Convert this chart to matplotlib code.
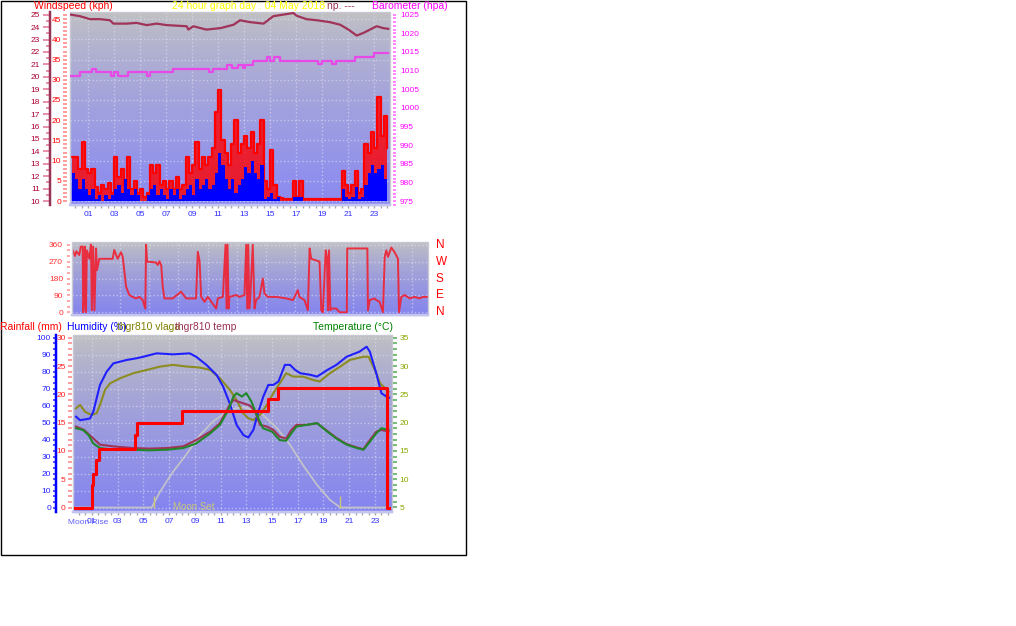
import numpy as np
import matplotlib
matplotlib.use("Agg")
from matplotlib import pyplot as plt
from matplotlib import transforms
from matplotlib.colors import to_rgb
from matplotlib.patches import Rectangle
from matplotlib.ticker import MultipleLocator

plt.rcParams['font.family'] = ['Liberation Sans', 'DejaVu Sans']

W, H = 1016, 626
PT = 0.72  # pixels -> points at dpi 100

# ---------------- data ----------------
# wind (kph), quarter-hour readings
wind_t = np.arange(-0.25, 24.01, 0.25)
gust = [11,
        11, 8, 14.7, 8,
        7, 8, 3.5, 2,
        4, 3, 4.5, 2,
        11, 6, 8, 4,
        11, 3, 5, 2,
        3, 1, 2, 9,
        7, 9, 4, 5,
        3, 5, 3, 6,
        3, 4, 11, 7,
        9, 14.7, 8, 11,
        9, 11, 13, 22,
        27.5, 15, 12, 9,
        14, 20, 12, 14,
        16, 13, 17, 12,
        14, 20, 5, 3,
        12.6, 4, 1, 0.8,
        0.5, 0.5, 0.5, 5,
        1, 5, 0.5, 0.5,
        0.5, 0.5, 0.5, 0.5,
        0.5, 0.5, 0.5, 0.5,
        0.5, 0.5, 7.5, 4,
        2, 4, 7.5, 2,
        3, 14, 12, 17,
        13, 25.8, 16, 21,
        13]
avg = [7,
       5.5, 3, 5.5, 3,
       1.5, 3, 0.5, 1.5,
       0, 1.5, 0.5, 1.5,
       3, 4, 2, 5.5,
       3, 1.5, 3, 1.5,
       0, 0, 1.5, 3,
       4, 1.5, 3, 1.5,
       0.5, 3, 1.5, 3,
       0.5, 1.5, 3, 4,
       1.5, 5.5, 3, 4,
       5.5, 3, 4, 7,
       12, 9, 5.5, 3,
       5.5, 2, 4, 5.5,
       8.4, 7, 10, 7,
       5.5, 9, 0.5, 1,
       2, 0.5, 1, 0,
       0, 0, 0, 1,
       1, 1, 0, 0,
       0, 0, 0, 0,
       0, 0, 0, 0,
       0, 0, 3, 1,
       0.5, 1, 3.4, 0.5,
       1, 4, 7, 9,
       7, 8, 9, 5.5,
       4]

# barometer (hpa)
baro_t = [-0.3, 0.4, 1.3, 1.6, 2.8, 3.0, 3.3, 4.1, 5.5, 5.8, 7.5, 10.3, 10.6,
          11.7, 12.1, 12.5, 12.9, 13.1, 13.7, 14.8, 15.0, 15.3, 15.8, 18.7,
          19.0, 19.8, 20.1, 21.5, 23.0, 24.1]
baro_p = [1008.6, 1009.5, 1010.4, 1009.5, 1008.6, 1009.5, 1008.6, 1009.5,
          1008.6, 1009.5, 1010.4, 1009.5, 1010.4, 1011.6, 1010.6, 1011.6,
          1010.6, 1011.6, 1012.7, 1013.6, 1012.7, 1013.6, 1012.7, 1011.8,
          1012.7, 1011.8, 1012.7, 1013.6, 1014.7, 1014.7]

# "np." series drawn on the barometer scale
np_t = [-0.31, 0.38, 1.15, 1.92, 2.69, 2.95, 3.97, 4.74, 5.51, 6.28, 7.05,
        8.59, 8.72, 9.1, 10.1, 11.2, 12.2, 12.69, 13.46, 14.5, 15.26, 16.8,
        17.05, 17.8, 18.6, 19.6, 20.4, 21.03, 21.67, 22.18, 23.2, 23.7, 24.1]
np_v = [1025.0, 1024.6, 1023.8, 1023.8, 1023.5, 1022.6, 1022.6, 1022.8,
        1022.2, 1022.6, 1022.2, 1021.9, 1021.0, 1021.9, 1021.0, 1021.4,
        1022.3, 1023.5, 1023.0, 1022.6, 1024.6, 1025.45, 1024.7, 1023.8,
        1023.5, 1023.0, 1022.3, 1021.0, 1019.4, 1020.1, 1021.9, 1021.4, 1021.2]

# wind direction (degrees)
dir_t = [-0.26, -0.1, 0.0, 0.2, 0.3, 0.43, 0.47, 0.52, 0.58, 0.66, 0.72, 0.89,
         1.0, 1.06, 1.15, 1.24, 1.35, 1.42, 1.57, 2.49, 2.6, 2.83, 3.06, 3.18,
         3.41, 3.63, 3.86, 4.09, 4.32, 4.55, 4.73, 4.78, 4.85, 5.47, 5.58, 5.7,
         5.82, 5.92, 6.04, 6.61, 7.18, 7.53, 8.21, 8.33, 8.45, 8.56, 8.79, 9.02,
         9.59, 9.7, 10.05, 10.23, 10.3, 10.37, 10.44, 10.5, 10.96, 11.19, 11.53,
         11.65, 11.72, 11.79, 11.86, 11.93, 12.1, 12.22, 12.33, 12.56, 12.79,
         12.9, 13.13, 13.71, 14.4, 14.86, 15.19, 15.3, 15.65, 15.88, 16.0,
         16.11, 16.68, 16.8, 16.91, 17.1, 17.19, 17.26, 17.33, 17.42, 17.49,
         17.83, 18.06, 18.55, 18.58, 19.96, 20.0, 20.12, 20.46, 20.57, 20.8,
         21.03, 21.15, 21.26, 21.38, 21.6, 21.83, 22.06, 22.13, 22.29, 22.52,
         22.86, 23.2, 23.54, 23.77, 24.12]
dir_d = [332, 300, 325, 305, 350, 350, 0, 56, 350, 0, 330, 285,
         360, 10, 350, 10, 340, 225, 285, 285, 332, 285, 320, 295,
         136, 92, 82, 74, 82, 65, 20, 360, 270, 265, 252, 272,
         250, 140, 74, 74, 110, 74, 74, 322, 274, 82, 56, 82,
         20, 74, 82, 360, 20, 360, 20, 82, 92, 82, 92,
         360, 20, 360, 20, 82, 360, 20, 65, 82, 180,
         100, 82, 82, 74, 65, 118, 82, 65, 11, 340,
         285, 270, 11, 0, 330, 295, 11, 330, 11, 20,
         20, 0, 0, 340, 340, 10, 65, 74, 65, 56,
         0, 295, 330, 295, 345, 320, 285, 0, 82, 92,
         74, 82, 74, 82, 82]

# humidity (%)
hum_t = [-0.23, 0.08, 0.85, 1.11, 1.37, 1.63, 2.15, 2.67, 3.71, 4.48, 5.0,
         6.03, 7.3, 8.6, 9.1, 9.9, 10.7, 11.2, 11.73, 12.25, 12.77, 13.16,
         13.55, 13.94, 14.32, 14.71, 15.1, 15.5, 16.0, 16.4, 16.8, 17.2, 17.95,
         18.5, 19.3, 20.0, 20.8, 21.8, 22.35, 22.6, 23.1, 23.5, 23.9, 24.1]
hum = [53.5, 51.4, 52.4, 56.4, 64.3, 72.2, 80, 84.9, 86.9, 87.9, 88.8,
       90.8, 90.2, 90.8, 88.8, 84, 78, 71.2, 61, 48.6, 42.7, 41.2,
       45.7, 56.4, 65.3, 72.2, 72.2, 74.2, 84, 84, 81, 79.1, 78.2,
       77.1, 81, 84, 88.8, 91.8, 94.7, 91.8, 79.1, 67.3, 65.3, 64.7]

# thgr810 vlaga (%)
vlaga_t = [-0.23, 0.08, 0.47, 0.98, 1.37, 1.63, 2.02, 2.41, 3.19, 4.22, 5.26,
           6.3, 7.3, 8.4, 9.4, 10.2, 10.95, 11.73, 12.25, 12.77, 13.16, 13.55,
           14.06, 14.6, 15.1, 15.6, 16.1, 16.65, 17.4, 18.2, 18.7, 19.5, 20.3,
           21.05, 22.1, 22.5, 23.0, 23.4, 23.8, 24.05]
vlaga = [58.4, 60.4, 56.4, 54.5, 55.5, 60.4, 69.2, 73.1, 76.1, 79.1, 81,
         83, 84, 83, 82.4, 81, 76.1, 69.2, 63.3, 55.5, 52.5, 51.5,
         54.5, 60.4, 67.3, 73.1, 79.1, 77.1, 77.1, 75.1, 74.2, 79.1, 83,
         86.9, 88.8, 88.8, 81, 73.1, 70.1, 68.2]

# temperature (C)
temp_t = [-0.23, 0.31, 0.74, 1.11, 1.63, 2.67, 4.2, 5.5, 6.8, 8.1, 9.1, 10.2,
          10.95, 11.6, 12.0, 12.25, 12.65, 13.0, 13.4, 13.8, 14.3, 15.0, 15.6,
          16.1, 16.5, 16.9, 17.7, 18.5, 19.3, 20.0, 20.8, 21.6, 22.1, 22.6,
          23.1, 23.5, 24.05]
temp = [19.0, 18.7, 17.8, 16.3, 15.5, 15.2, 15.2, 15.1, 15.2, 15.5, 16.3, 18.1,
        19.6, 22.2, 24.6, 25.2, 24.6, 25.2, 23.7, 21.4, 19.0, 18.4, 16.9,
        16.8, 18.1, 19.3, 19.6, 19.9, 18.4, 17.2, 16.1, 15.5, 15.2, 16.6,
        18.1, 19.0, 18.7]

# thgr810 temp (C)
thgr_t = [-0.23, 0.39, 1.11, 1.63, 2.67, 4.2, 5.5, 6.8, 8.1, 9.1, 10.2, 10.95,
          11.73, 12.0, 12.25, 12.77, 13.3, 13.7, 14.06, 14.6, 15.1, 15.6, 16.1,
          16.5, 16.9, 17.7, 18.5, 19.3, 20.0, 20.8, 21.6, 22.1, 22.6, 23.1,
          23.5, 24.05]
thgr = [19.3, 18.7, 17.2, 16.1, 15.8, 15.5, 15.4, 15.5, 15.8, 16.9, 18.4, 19.9,
        23.2, 24.0, 23.8, 23.4, 23.0, 21.9, 19.6, 19.3, 18.7, 17.5, 17.2,
        18.7, 19.6, 19.6, 19.9, 18.5, 17.3, 16.2, 15.6, 15.3, 16.9, 18.4,
        18.7, 18.4]

# rainfall (mm), cumulative
rain_t = [-0.3, 0.98, 1.1, 1.32, 1.55, 4.35, 4.53, 7.98, 14.71, 15.43, 23.9, 24.1]
rain = [0, 4.0, 6.0, 8.4, 10.3, 12.8, 14.9, 17.0, 19.2, 21.1, 0, 0]

# moon
moon_t = [-0.3, 5.65, 6.3, 7.3, 8.4, 9.4, 10.4, 11.5, 12.2, 12.9, 13.3, 14.3,
          15.4, 16.4, 17.4, 18.5, 19.5, 20.3, 24.1]
moon = [0, 0, 9.3, 21, 31.8, 42.7, 50.6, 56.4, 58.5, 59, 58, 54.5,
        46.6, 36.9, 25, 13.3, 4.5, 0, 0]
moon_marks = [5.83, 20.3]

odd_hours = list(range(1, 24, 2))
hour_labels = ["%02d" % h for h in odd_hours]


# ---------------- helpers ----------------
def box(x0, y0, x1, y1):
    return [x0 / W, 1 - y1 / H, (x1 - x0) / W, (y1 - y0) / H]


def gradient(ax, top, bottom):
    t = np.linspace(0, 1, 200)[:, None, None]
    c0 = np.array(to_rgb(top))
    c1 = np.array(to_rgb(bottom))
    img = c0 + (c1 - c0) * t ** 0.75
    ax.imshow(img, extent=[0, 1, 0, 1], transform=ax.transAxes,
              aspect='auto', zorder=0, interpolation='bilinear')
    ax.add_patch(Rectangle((0, 0), 1, 1, transform=ax.transAxes, fill=False,
                           ec='#c8c8d4', lw=1, zorder=6, clip_on=False))
    ax.plot([0, 1], [0, 0], transform=ax.transAxes, color='#c4c4f0',
            lw=2.5 * PT, zorder=6, clip_on=False)


def yaxis(ax, side, out, lab_c, tick_c, major, minor, length=4, pad=2,
          spine_c=None, spine_w=0, mlength=None):
    for s in ax.spines.values():
        s.set_visible(False)
    ax.yaxis.set_ticks_position(side)
    sp = ax.spines[side]
    sp.set_position(('outward', out * PT))
    if spine_c:
        sp.set_visible(True)
        sp.set_color(spine_c)
        sp.set_linewidth(spine_w * PT)
    ax.yaxis.set_major_locator(MultipleLocator(major))
    ax.yaxis.set_minor_locator(MultipleLocator(minor))
    ax.tick_params(axis='y', which='major', colors=tick_c, labelcolor=lab_c,
                   labelsize=6, direction='out', length=length * PT,
                   pad=pad * PT, width=1.5 * PT)
    ax.tick_params(axis='y', which='minor', colors=tick_c, direction='out',
                   length=(mlength or length) * PT, width=1.5 * PT)


def xaxis(ax, labels=True):
    ax.set_xticks(odd_hours)
    ax.set_xticklabels(hour_labels if labels else [])
    ax.xaxis.set_minor_locator(MultipleLocator(0.5))
    ax.tick_params(axis='x', which='both', colors='#a8a8a8',
                   labelcolor='#3030ff', labelsize=6, direction='out',
                   length=3 * PT, pad=3 * PT, width=1)


def grid(ax):
    ax.grid(True, which='major', color='#e0e0f4', alpha=0.6, ls=':', lw=1)
    ax.set_axisbelow(True)


def label(x, y, s, color, size=7.5, **kw):
    fig.text(x / W, 1 - y / H, s, color=color, fontsize=size,
             va='center', ha='left', **kw)


fig = plt.figure(figsize=(W / 100, H / 100), dpi=100)
fig.patch.set_facecolor('white')

# ---------------- wind / barometer ----------------
axw = fig.add_axes(box(70, 12, 390, 205))
gradient(axw, '#c2c2c2', '#8a8af2')
grid(axw)
axw.fill_between(wind_t, gust, step='post', color='#ff0000', alpha=0.8,
                 lw=0, zorder=2)
axw.step(wind_t, gust, where='post', color='#ff0000', lw=1.6, zorder=3)
axw.fill_between(wind_t, avg, step='post', color='#0000ff', lw=0, zorder=4)
axw.set_xlim(-0.385, 24.23)
axw.set_ylim(-0.99, 46.78)
yaxis(axw, 'left', 3, '#ff0000', '#ff8080', 5, 1, length=4, pad=2)
xaxis(axw)

axws = axw.twinx()
axws.set_ylim(9.68, 25.22)
yaxis(axws, 'left', 20, '#aa0033', '#e07090', 1, 0.5, length=7, pad=3,
      spine_c='#993355', spine_w=2.5, mlength=4)

axp = axw.twinx()
axp.step(baro_t, baro_p, where='post', color='#e848e8', lw=1.6)
axp.plot(np_t, np_v, color='#a03358', lw=1.6)
axp.set_ylim(973.93, 1025.72)
yaxis(axp, 'right', 3, '#ff00ff', '#ff60ff', 5, 1, length=3, pad=4)

# ---------------- wind direction ----------------
axm = fig.add_axes(box(72, 242, 428, 315))
gradient(axm, '#c2c2c2', '#8484ee')
axm.plot(dir_t, dir_d, color='#f02030', lw=1.4, alpha=0.9, zorder=3)
axm.set_xlim(-0.3, 24.12)
axm.set_ylim(-14.4, 374.4)
axm.set_yticks([0, 90, 180, 270, 360])
yaxis(axm, 'left', 2, '#ff3030', '#ff9090', 90, 30, length=3, pad=4)
axm.set_xticks(odd_hours)
axm.tick_params(axis='x', length=0, labelbottom=False)
grid(axm)
tr = transforms.blended_transform_factory(fig.transFigure, axm.transData)
for d, s in zip([360, 270, 180, 90, 0], ['N', 'W', 'S', 'E', 'N']):
    axm.text(436 / W, d, s, transform=tr, color='#ff0000', fontsize=8.5,
             va='center', ha='left', clip_on=False)

# ---------------- rain / humidity / temperature ----------------
axb = fig.add_axes(box(72.7, 335, 391.7, 512))
gradient(axb, '#c2c2c2', '#8484f0')
grid(axb)
axb.plot(moon_t, moon, color='#c8c8c8', lw=1.3, alpha=0.9, zorder=2)
axb.vlines(moon_marks, 0, 7, color='#c8c878', lw=1, zorder=2)
axb.plot(vlaga_t, vlaga, color='#8c8c20', lw=1.5, zorder=3)
axb.plot(hum_t, hum, color='#2020ff', lw=1.5, zorder=3)
axb.set_xlim(-0.49, 24.3)
axb.set_ylim(-2.65, 101.6)
yaxis(axb, 'left', 16.7, '#2020ff', '#2020ff', 10, 10 / 3, length=3, pad=2,
      spine_c='#0000ff', spine_w=2.5)
xaxis(axb)

axt = axb.twinx()
axt.plot(thgr_t, thgr, color='#a03358', lw=1.5)
axt.plot(temp_t, temp, color='#20882a', lw=1.5)
axt.set_ylim(4.2, 35.48)
yaxis(axt, 'right', 1, '#88a800', '#50a850', 5, 1, length=4, pad=3)

axr = axb.twinx()
axr.step(rain_t, rain, where='post', color='#ff0000', lw=2.2)
axr.set_ylim(-0.795, 30.48)
yaxis(axr, 'left', 1, '#ff2020', '#ff8080', 5, 1, length=4, pad=2)

# ---------------- texts ----------------
label(34, 6, 'Windspeed (kph)', '#ff0000')
label(172, 6, '24 hour graph day : 04 May 2018', '#ffff00')
label(327, 6, 'np. ---', '#993355')
label(372, 6, 'Barometer (hpa)', '#ff00ff')

label(0, 327, 'Rainfall (mm)', '#ff0000')
label(67, 327, 'Humidity (%)', '#0000ff')
label(117, 327, 'thgr810 vlaga', '#808000')
label(175, 327, 'thgr810 temp', '#993355')
label(313, 327, 'Temperature (°C)', '#008000')

label(68, 522, 'Moon Rise', '#6060ff', size=6)
label(173, 507, 'Moon Set', '#c8c878', size=7)

fig.add_artist(Rectangle((0.5 / W, 1 - 554.5 / H), 465 / W, 554 / H,
                         transform=fig.transFigure, fill=False, ec='black',
                         lw=1))

fig.savefig('out.png', dpi=100)
